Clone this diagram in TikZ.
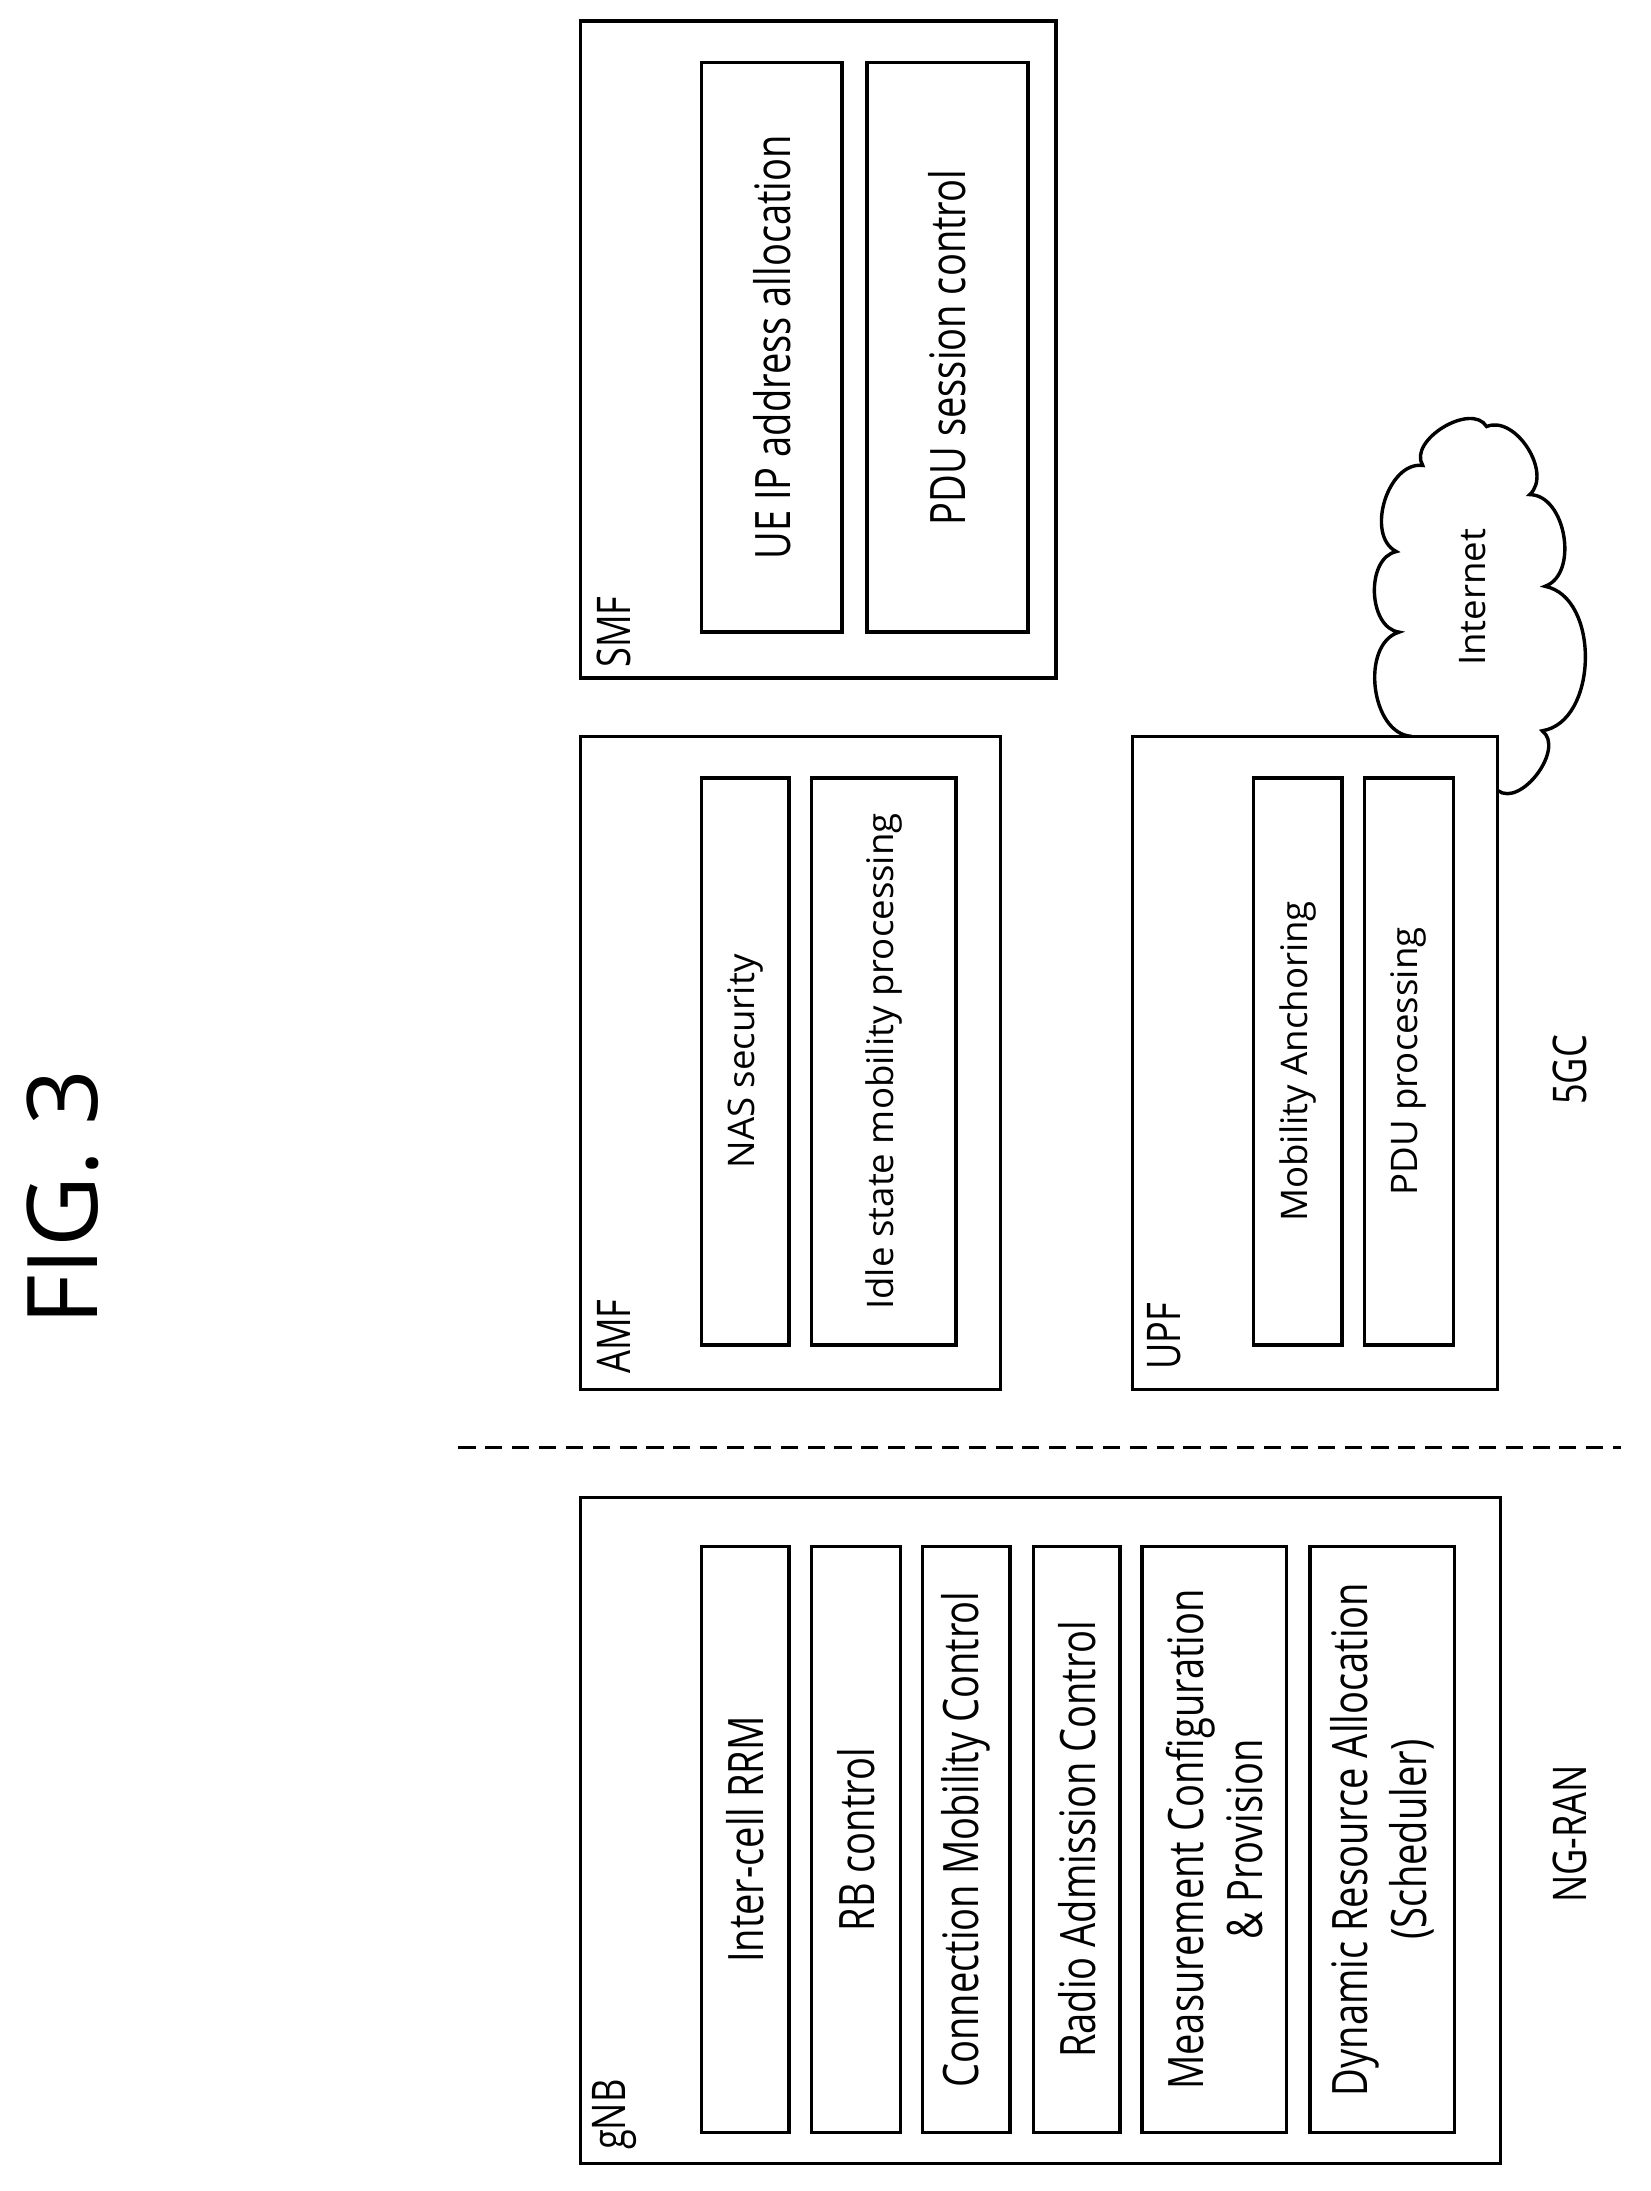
\documentclass[tikz,border=0pt]{standalone}
\usepackage{fontspec}
\setmainfont{Open Sans}
\newfontfamily\cond{Open Sans}[FakeStretch=0.78]
\begin{document}
\begin{tikzpicture}[x=0.02cm,y=-0.02cm,
  box/.style={draw,line width=1.4pt},
  lab/.style={rotate=90,font=\cond\fontsize{20}{24}\selectfont,align=center},
  labo/.style={rotate=90,font=\fontsize{15}{18}\selectfont,align=center},
  tag/.style={rotate=90,font=\cond\fontsize{19}{22}\selectfont}]
\useasboundingbox (0,0) rectangle (1188,1577);
\node[rotate=90,font=\fontsize{40}{44}\selectfont] (fig) at (45,862) {FIG. 3};
% cloud
\draw[line width=1.4pt] (1016,530) to[bend left=80] (1007,455) to[bend left=80] (1005,397)
  to[bend left=80] (1024,335) to[bend left=90] (1070,307) to[bend left=80] (1101,356)
  to[bend left=80] (1112,422) to[bend left=80] (1110,526) to[bend left=90] (1078,569);
\node[labo] (inet) at (1060,430) {Internet};
% dashed
\coordinate (d1) at (330,1042); \coordinate (d2) at (1167,1042);
\draw[dashed,line width=1pt,dash pattern=on 7pt off 4pt] (d1) -- (d2);
% gNB
\draw[box,fill=white] (418,1078) rectangle (1080,1557);
\node[tag] (gnb) at (442,1522) {gNB};
\draw[box] (505,1113) rectangle (568,1535); \node[lab] (g1) at (536.5,1324) {Inter-cell RRM};
\draw[box] (584,1113) rectangle (648,1535); \node[lab] (g2) at (616,1324) {RB control};
\draw[box] (664,1113) rectangle (727,1535); \node[lab] (g3) at (695.5,1324) {Connection Mobility Control};
\draw[box] (744,1113) rectangle (806,1535); \node[lab] (g4) at (775,1324) {Radio Admission Control};
\draw[box] (822,1113) rectangle (926,1535); \node[lab] (g5) at (874,1324) {Measurement Configuration\\\& Provision};
\draw[box] (943,1113) rectangle (1047,1535); \node[lab] (g6) at (995,1324) {Dynamic Resource Allocation\\(Scheduler)};
\node[tag] (ngran) at (1130,1320) {NG-RAN};
% AMF
\draw[box] (418,530) rectangle (720,1000);
\node[tag] (amf) at (442,962) {AMF};
\draw[box] (505,560) rectangle (568,968); \node[labo] (a1) at (536.5,764) {NAS security};
\draw[box] (584,560) rectangle (688,968); \node[labo] (a2) at (636,764) {Idle state mobility processing};
% SMF
\draw[box] (418,15) rectangle (760,488);
\node[tag] (smf) at (442,455) {SMF};
\draw[box] (505,45) rectangle (606,455); \node[lab] (s1) at (555.5,250) {UE IP address allocation};
\draw[box] (624,45) rectangle (740,455); \node[lab] (s2) at (682,250) {PDU session control};
% UPF
\draw[box,fill=white] (815,530) rectangle (1078,1000);
\node[tag] (upf) at (838,962) {UPF};
\draw[box] (902,560) rectangle (966,968); \node[labo] (u1) at (934,764) {Mobility Anchoring};
\draw[box] (982,560) rectangle (1046,968); \node[labo] (u2) at (1014,764) {PDU processing};
\node[tag] (fgc) at (1130,770) {5GC};
\end{tikzpicture}
\end{document}
